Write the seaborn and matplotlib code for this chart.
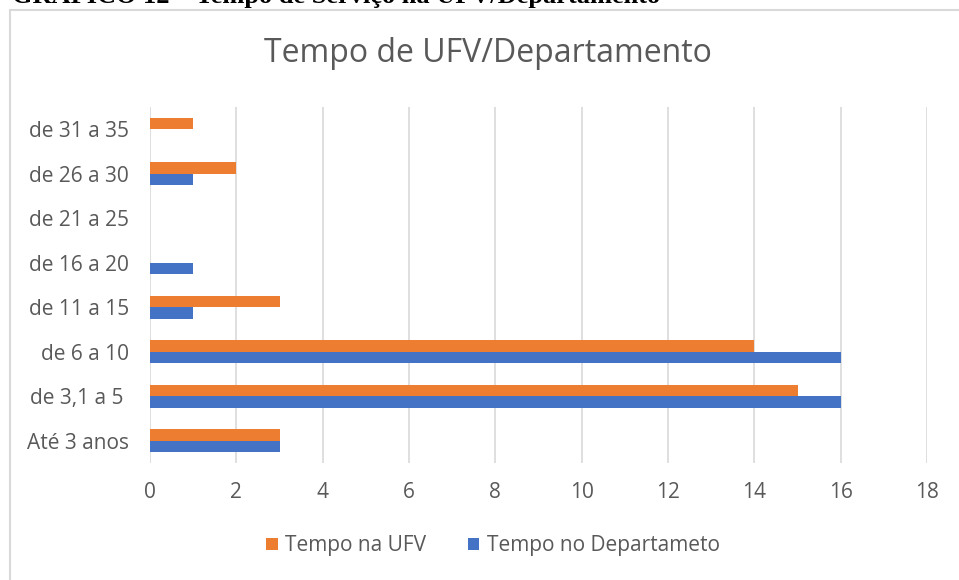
import matplotlib
matplotlib.use("Agg")
import matplotlib.pyplot as plt
import seaborn as sns
import pandas as pd
from matplotlib.patches import Rectangle

# dados do grafico (de cima para baixo)
faixas = ["de 31 a 35", "de 26 a 30", "de 21 a 25", "de 16 a 20",
          "de 11 a 15", "de 6 a 10", "de 3,1 a 5 ", "Até 3 anos"]
tempo_ufv = [1, 2, 0, 0, 3, 14, 15, 3]
tempo_depto = [0, 1, 0, 1, 1, 16, 16, 3]
series = ["Tempo na UFV", "Tempo no Departameto"]
x_ticks = [0, 2, 4, 6, 8, 10, 12, 14, 16, 18]

df = pd.DataFrame({
    "faixa": faixas * 2,
    "valor": tempo_ufv + tempo_depto,
    "serie": [series[0]] * len(faixas) + [series[1]] * len(faixas),
})

sns.set_theme(style="white")
plt.rcParams["font.family"] = ["Open Sans", "DejaVu Sans"]

cinza = "#595959"
cores = {series[0]: "#ED7D31", series[1]: "#4472C4"}

fig = plt.figure(figsize=(9.59, 5.80), dpi=100)
ax = fig.add_axes([150 / 959, 117 / 580, 777 / 959, 356 / 580])

sns.barplot(
    data=df, x="valor", y="faixa", hue="serie",
    order=faixas, hue_order=series, palette=cores,
    orient="h", width=0.52, linewidth=0, saturation=1,
    ax=ax, zorder=3
)

ax.set_xlim(0, 18)
ax.set_xticks(x_ticks)
ax.set_ylim(7.5, -0.5)
ax.grid(axis="x", color="#D9D9D9", linewidth=1.2, zorder=0)
ax.grid(axis="y", visible=False)
for s in ax.spines.values():
    s.set_visible(False)
ax.set_xlabel("")
ax.set_ylabel("")
ax.tick_params(axis="y", length=0, pad=15, labelsize=15, labelcolor=cinza)
ax.tick_params(axis="x", length=0, pad=14, labelsize=15, labelcolor=cinza)

fig.text(488 / 959, (580 - 53) / 580, "Tempo de UFV/Departamento",
         fontsize=23, color=cinza, ha="center", va="center")

ax.legend(loc="center", bbox_to_anchor=(493 / 959, 34 / 580),
          bbox_transform=fig.transFigure, ncol=2, frameon=False,
          fontsize=15, labelcolor=cinza, handlelength=0.55, handleheight=0.55,
          handletextpad=0.35, columnspacing=2.0)

# moldura do grafico
fig.patches.append(Rectangle((10 / 959, -0.1), 1.2, (580 - 10) / 580 + 0.1,
                             transform=fig.transFigure, fill=False,
                             edgecolor="#D9D9D9", linewidth=1.5))

# legenda do documento (cortada no topo)
fig.text(12 / 959, (580 - 3) / 580, "GRÁFICO 12 – Tempo de Serviço na UFV/Departamento",
         family="Liberation Serif", fontweight="bold", fontsize=19,
         color="black", ha="left", va="baseline")

fig.savefig("out.png", dpi=100)
